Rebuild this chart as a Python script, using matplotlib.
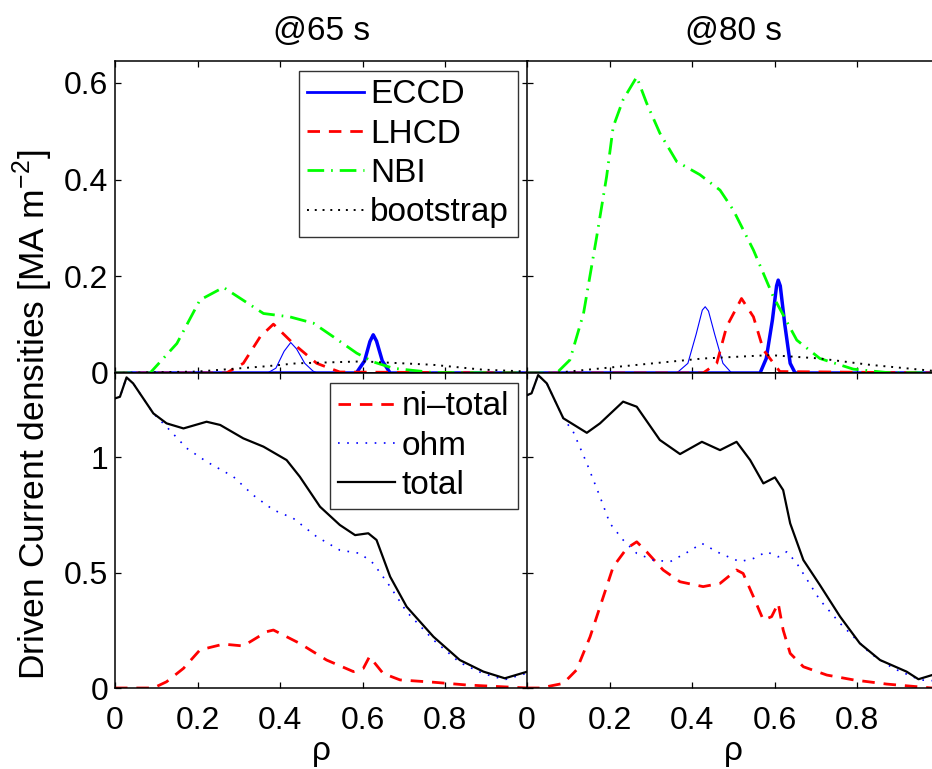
import matplotlib
matplotlib.use('Agg')
import matplotlib.pyplot as plt
from matplotlib.lines import Line2D

plt.rcParams['font.family'] = ['Liberation Sans', 'DejaVu Sans']
plt.rcParams['mathtext.fontset'] = 'custom'
plt.rcParams['mathtext.rm'] = 'Liberation Sans'
plt.rcParams['font.size'] = 23

# ---------------- data ----------------
# @65 s, top panel
nbi65_x = [0, 0.085, 0.15, 0.206, 0.263, 0.36, 0.424, 0.481, 0.529, 0.586, 0.626, 0.675, 0.77, 1.0]
nbi65_y = [0, 0, 0.061, 0.151, 0.177, 0.123, 0.116, 0.103, 0.075, 0.041, 0.023, 0.0097, 0.001, 0]
lh65_x = [0, 0.27, 0.311, 0.352, 0.384, 0.432, 0.489, 0.545, 1.0]
lh65_y = [0, 0, 0.02, 0.075, 0.101, 0.061, 0.02, 0.002, 0]
ec65a_x = [0, 0.37, 0.39, 0.41, 0.426, 0.44, 0.46, 0.48, 0.49, 1.0]
ec65a_y = [0, 0, 0.01, 0.045, 0.063, 0.05, 0.02, 0.004, 0, 0]
ec65b_x = [0, 0.585, 0.605, 0.618, 0.626, 0.634, 0.648, 0.667, 1.0]
ec65b_y = [0, 0, 0.025, 0.065, 0.079, 0.066, 0.025, 0, 0]
bs65_x = [0, 0.2, 0.368, 0.44, 0.6, 0.77, 0.89, 1.0]
bs65_y = [0, 0.003, 0.014, 0.02, 0.024, 0.017, 0.007, 0.003]

# @80 s, top panel
nbi80_x = [0, 0.072, 0.104, 0.137, 0.169, 0.193, 0.209, 0.233, 0.266, 0.29, 0.322, 0.363,
           0.419, 0.468, 0.5, 0.549, 0.597, 0.654, 0.71, 0.791, 0.872, 1.0]
nbi80_y = [0, 0, 0.027, 0.123, 0.282, 0.406, 0.509, 0.565, 0.612, 0.558, 0.496, 0.437,
           0.41, 0.378, 0.337, 0.254, 0.158, 0.068, 0.03, 0.008, 0.001, 0]
lh80_x = [0, 0.427, 0.46, 0.484, 0.52, 0.549, 0.573, 0.613, 1.0]
lh80_y = [0, 0, 0.02, 0.096, 0.154, 0.116, 0.048, 0.003, 0]
ec80a_x = [0, 0.363, 0.39, 0.41, 0.425, 0.432, 0.44, 0.455, 0.475, 0.496, 1.0]
ec80a_y = [0, 0, 0.02, 0.08, 0.13, 0.137, 0.128, 0.08, 0.02, 0, 0]
ec80b_x = [0, 0.565, 0.58, 0.595, 0.605, 0.609, 0.614, 0.625, 0.638, 0.65, 1.0]
ec80b_y = [0, 0, 0.03, 0.11, 0.18, 0.192, 0.18, 0.1, 0.02, 0, 0]
bs80_x = [0, 0.065, 0.185, 0.306, 0.427, 0.589, 0.71, 0.83, 0.977, 1.0]
bs80_y = [0, 0, 0.01, 0.02, 0.03, 0.037, 0.03, 0.017, 0.005, 0.004]

# @65 s, bottom panel
tot65_x = [0, 0.012, 0.028, 0.044, 0.093, 0.125, 0.166, 0.222, 0.255, 0.311, 0.36, 0.416,
           0.448, 0.497, 0.545, 0.582, 0.614, 0.634, 0.667, 0.707, 0.772, 0.836, 0.893, 0.945, 1.0]
tot65_y = [1.254, 1.261, 1.345, 1.319, 1.189, 1.146, 1.124, 1.153, 1.139, 1.081, 1.045, 0.987,
           0.915, 0.785, 0.706, 0.662, 0.67, 0.641, 0.482, 0.352, 0.222, 0.121, 0.071, 0.042, 0.071]
ohm65_x = [0, 0.012, 0.028, 0.044, 0.093, 0.125, 0.174, 0.222, 0.287, 0.335, 0.384, 0.432,
           0.489, 0.545, 0.594, 0.626, 0.667, 0.707, 0.772, 0.836, 0.893, 0.945, 1.0]
ohm65_y = [1.254, 1.261, 1.345, 1.319, 1.189, 1.131, 1.038, 0.98, 0.915, 0.835, 0.771, 0.735,
           0.655, 0.597, 0.583, 0.54, 0.439, 0.33, 0.208, 0.11, 0.062, 0.036, 0.065]
ni65_x = [0, 0.093, 0.125, 0.166, 0.206, 0.263, 0.311, 0.368, 0.384, 0.448, 0.513, 0.578,
          0.602, 0.617, 0.65, 0.691, 0.772, 0.853, 1.0]
ni65_y = [0, 0, 0.027, 0.085, 0.165, 0.19, 0.182, 0.244, 0.251, 0.193, 0.121, 0.071,
          0.085, 0.136, 0.063, 0.035, 0.025, 0.013, 0]

# @80 s, bottom panel
tot80_x = [0, 0.011, 0.027, 0.048, 0.088, 0.145, 0.177, 0.233, 0.266, 0.322, 0.371, 0.424,
           0.468, 0.508, 0.541, 0.573, 0.601, 0.621, 0.638, 0.67, 0.71, 0.759, 0.807, 0.856,
           0.92, 0.949, 0.982, 1.0]
tot80_y = [1.268, 1.276, 1.355, 1.319, 1.168, 1.105, 1.146, 1.24, 1.218, 1.074, 1.013, 1.066,
           1.03, 1.066, 0.987, 0.886, 0.912, 0.857, 0.713, 0.554, 0.446, 0.309, 0.193, 0.121,
           0.071, 0.038, 0.056, 0.065]
ohm80_x = [0, 0.011, 0.027, 0.048, 0.088, 0.112, 0.145, 0.177, 0.201, 0.233, 0.266, 0.306,
           0.347, 0.387, 0.424, 0.468, 0.516, 0.549, 0.581, 0.609, 0.63, 0.654, 0.71, 0.759,
           0.832, 0.888, 0.953, 1.0]
ohm80_y = [1.268, 1.276, 1.355, 1.319, 1.168, 1.11, 0.973, 0.828, 0.713, 0.641, 0.583, 0.554,
           0.547, 0.586, 0.626, 0.583, 0.547, 0.561, 0.59, 0.568, 0.59, 0.54, 0.381, 0.28,
           0.15, 0.085, 0.035, 0.03]
ni80_x = [0, 0.032, 0.088, 0.12, 0.153, 0.185, 0.209, 0.242, 0.266, 0.29, 0.33, 0.371, 0.427,
          0.468, 0.508, 0.524, 0.549, 0.573, 0.593, 0.609, 0.621, 0.638, 0.67, 0.727, 0.792,
          0.872, 0.982]
ni80_y = [0, 0, 0.02, 0.078, 0.222, 0.395, 0.525, 0.605, 0.633, 0.59, 0.511, 0.46, 0.439,
          0.453, 0.511, 0.496, 0.395, 0.294, 0.309, 0.367, 0.251, 0.15, 0.092, 0.056, 0.035,
          0.017, 0.0]

titles = ['@65 s', '@80 s']
xticks = [0, 0.2, 0.4, 0.6, 0.8]
top_yticks = [0, 0.2, 0.4, 0.6]
bot_yticks = [0, 0.5, 1]

# ---------------- styles ----------------
GREEN = '#00ff00'
DASH = (0, (4.5, 3.2))
DASHDOT = (0, (6, 2.5, 0.6, 2.5))
DOT_BS = (0, (1, 3))
DOT_OHM = (0, (1, 4.5))

fig = plt.figure(figsize=(9.32, 7.69), dpi=100)
W, H = 932.0, 769.0
xl, xr, wd = 115 / W, 527 / W, 412.5 / W
top_pos = (373 - 61) / H
bot_pos = (688 - 373) / H

ax_tl = fig.add_axes([xl, 1 - 373 / H, wd, top_pos])
ax_tr = fig.add_axes([xr, 1 - 373 / H, wd, top_pos])
ax_bl = fig.add_axes([xl, 1 - 688 / H, wd, bot_pos])
ax_br = fig.add_axes([xr, 1 - 688 / H, wd, bot_pos])

top_data = [
    (ax_tl, nbi65_x, nbi65_y, lh65_x, lh65_y, ec65a_x, ec65a_y, ec65b_x, ec65b_y, bs65_x, bs65_y),
    (ax_tr, nbi80_x, nbi80_y, lh80_x, lh80_y, ec80a_x, ec80a_y, ec80b_x, ec80b_y, bs80_x, bs80_y),
]
for ax, nx, ny, lx, ly, eax, eay, ebx, eby, bx, by in top_data:
    ax.plot(eax, eay, color='blue', lw=0.8)
    ax.plot(ebx, eby, color='blue', lw=2.5)
    ax.plot(lx, ly, color='red', lw=2, linestyle=DASH)
    ax.plot(nx, ny, color=GREEN, lw=2, linestyle=DASHDOT)
    ax.plot(bx, by, color='black', lw=1.4, linestyle=DOT_BS)

bot_data = [
    (ax_bl, ni65_x, ni65_y, ohm65_x, ohm65_y, tot65_x, tot65_y),
    (ax_br, ni80_x, ni80_y, ohm80_x, ohm80_y, tot80_x, tot80_y),
]
for ax, nx, ny, ox, oy, tx, ty in bot_data:
    ax.plot(nx, ny, color='red', lw=2, linestyle=DASH)
    ax.plot(ox, oy, color='blue', lw=1.2, linestyle=DOT_OHM)
    ax.plot(tx, ty, color='black', lw=1.6)

for ax in (ax_tl, ax_tr):
    ax.set_ylim(0, 0.645)
    ax.set_yticks(top_yticks)
for ax in (ax_bl, ax_br):
    ax.set_ylim(0, 1.364)
    ax.set_yticks(bot_yticks)

fmt = plt.FuncFormatter(lambda v, p: f'{v:g}')
for ax in (ax_tl, ax_tr, ax_bl, ax_br):
    ax.set_xlim(0, 1)
    ax.set_xticks(xticks)
    ax.tick_params(direction='in', length=4, width=0.9, top=True, right=True,
                   labelsize=23)
    ax.tick_params(axis='x', pad=13)
    ax.tick_params(axis='y', pad=5)
    ax.xaxis.set_major_formatter(fmt)
    ax.yaxis.set_major_formatter(fmt)
    for sp in ax.spines.values():
        sp.set_linewidth(1.1)

for ax in (ax_bl, ax_br):
    ax.set_xlabel('ρ', labelpad=0, fontsize=24)
for ax in (ax_tl, ax_tr):
    ax.tick_params(labelbottom=False)
for ax in (ax_tr, ax_br):
    ax.tick_params(labelleft=False)

ax_tl.set_title(titles[0], pad=15, fontsize=24)
ax_tr.set_title(titles[1], pad=15, fontsize=24)

leg_kw = dict(loc='upper right', frameon=True, fancybox=False, fontsize=24,
              handlelength=1.7, handletextpad=0.2, borderpad=0.25,
              labelspacing=0.25, borderaxespad=0.3)

top_handles = [
    Line2D([], [], color='blue', lw=2),
    Line2D([], [], color='red', lw=2, linestyle=DASH),
    Line2D([], [], color=GREEN, lw=2, linestyle=DASHDOT),
    Line2D([], [], color='black', lw=1.4, linestyle=DOT_BS),
]
leg = ax_tl.legend(top_handles, ['ECCD', 'LHCD', 'NBI', 'bootstrap'], **leg_kw)
leg.get_frame().set_edgecolor('black')
leg.get_frame().set_linewidth(1.0)

bot_handles = [
    Line2D([], [], color='red', lw=2, linestyle=DASH),
    Line2D([], [], color='blue', lw=1.2, linestyle=DOT_OHM),
    Line2D([], [], color='black', lw=1.6),
]
leg2 = ax_bl.legend(bot_handles, ['ni\u2013total', 'ohm', 'total'], **leg_kw)
leg2.get_frame().set_edgecolor('black')
leg2.get_frame().set_linewidth(1.0)

fig.text(33 / W, 1 - 415 / H, 'Driven Current densities [MA m$^{-2}$]',
         rotation=90, ha='center', va='center', fontsize=25.5)

fig.savefig('out.png', dpi=100)
